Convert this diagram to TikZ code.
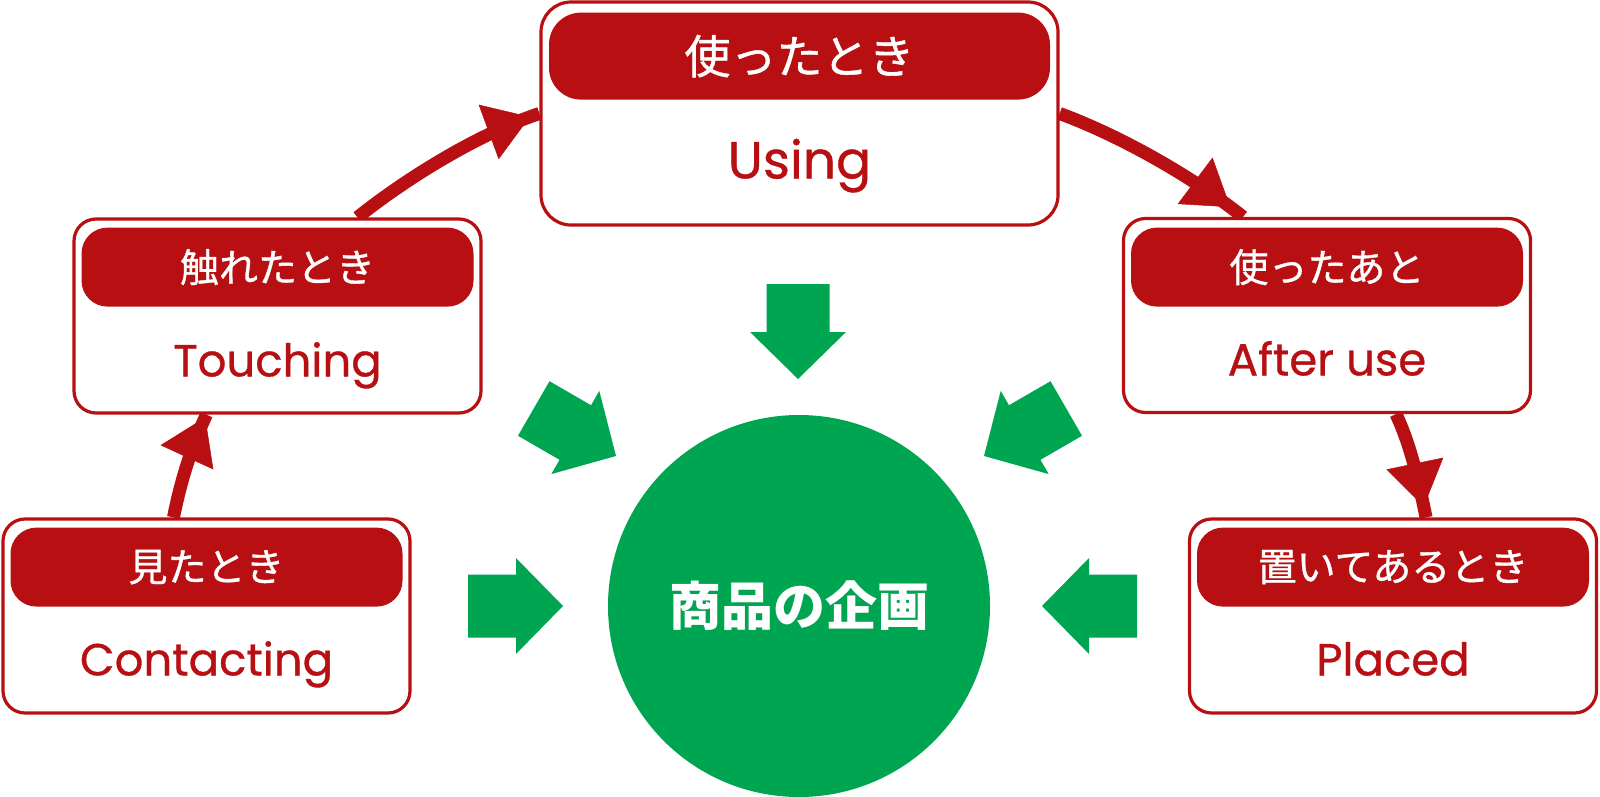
\documentclass[tikz,border=0pt]{standalone}
\usepackage{fontspec}
\setmainfont{Poppins}
\newfontfamily\enfont[FakeBold=0.7]{Poppins}
\newfontfamily\jpfont[FakeBold=0.9]{Noto Sans CJK JP}
\newfontfamily\jpbold{Noto Sans CJK JP}
\usetikzlibrary{positioning,arrows.meta,decorations.markings,backgrounds}

\definecolor{brickred}{RGB}{183,15,18}
\definecolor{leafgreen}{RGB}{0,165,81}

\tikzset{
  stagebox/.style={draw=brickred, line width=3.2pt, fill=white,
    rounded corners=22pt, minimum width=407pt, minimum height=194pt,
    inner sep=0},
  stagehead/.style={fill=brickred, text=white, rounded corners=26pt,
    minimum width=392pt, minimum height=79pt, inner sep=0,
    font=\jpfont\fontsize{39}{42}\selectfont},
  stagename/.style={text=brickred, inner sep=0, anchor=base,
    font=\enfont\fontsize{45}{50}\selectfont},
  flow/.style={draw=brickred, line width=13pt, postaction={decorate},
    decoration={markings,
      mark=at position #1 with {\arrow{Triangle[length=44pt,width=58pt,line width=0.5pt]}}}},
  flow/.default=-10pt,
  inflow/.pic={\fill[leafgreen] (0,0) -- (-47,48) -- (-47,31.5) -- (-95,31.5)
    -- (-95,-31.5) -- (-47,-31.5) -- (-47,-48) -- cycle;}
}

\begin{document}
\begin{tikzpicture}[x=1pt,y=-1pt]
\useasboundingbox (0,0) rectangle (1600,797);

% Planning circle
\node[circle,
    fill=leafgreen,
    minimum size=382pt,
    inner sep=0,
    text=white,
    font=\jpbold\bfseries\fontsize{52}{56}\selectfont] (plan) at (799,606) {商品の企画};

% Contacting block
\node[stagebox] (stage1) at (206.5,616) {};
\node[stagehead, below=10pt of stage1.north] (jp1) {見たとき};
\node[stagename] (en1) at ([yshift=-158pt]stage1.north) {Contacting};

% Touching block
\node[stagebox] (stage2) at (277.5,316) {};
\node[stagehead, below=10pt of stage2.north] (jp2) {触れたとき};
\node[stagename] (en2) at ([yshift=-159pt]stage2.north) {Touching};

% Using block
\node[stagebox,
    minimum width=517pt,
    minimum height=223pt,
    rounded corners=30pt] (stage3) at (799.5,113.5) {};
\node[stagehead,
    below=12pt of stage3.north,
    minimum width=501pt,
    minimum height=87pt,
    rounded corners=32pt,
    font=\jpfont\fontsize{46}{50}\selectfont] (jp3) {使ったとき};
\node[stagename,
    font=\enfont\fontsize{52}{56}\selectfont] (en3) at ([yshift=-178pt]stage3.north) {Using};

% After use block
\node[stagebox] (stage4) at (1327,315.5) {};
\node[stagehead, below=10.5pt of stage4.north] (jp4) {使ったあと};
\node[stagename] (en4) at ([yshift=-158.5pt]stage4.north) {After use};

% Placed block
\node[stagebox] (stage5) at (1393,616) {};
\node[stagehead, below=10pt of stage5.north] (jp5) {置いてあるとき};
\node[stagename] (en5) at ([yshift=-158pt]stage5.north) {Placed};

% Arrows between the stages
\begin{scope}[on background layer]
\draw[flow=-3pt] ([xshift=-33pt]stage1.north)
    .. controls +(8,-40) and +(-14,30) .. ([xshift=-71pt]stage2.south);
\draw[flow=-10pt] ([xshift=80pt]stage2.north)
    .. controls +(50,-40) and +(-60,20) .. (stage3.west);
\draw[flow=-16pt] (stage3.east)
    .. controls +(60,22) and +(-50,-40) .. ([xshift=-84pt]stage4.north);
\draw[flow=-11pt] ([xshift=69pt]stage4.south)
    .. controls +(14,30) and +(-8,-40) .. ([xshift=33pt]stage5.north);
\end{scope}

% Arrows into the circle
\pic[rotate=-90] at (798,379) {inflow};
\pic[rotate=-30] at (616,456) {inflow};
\pic[rotate=-150] at (984,456) {inflow};
\pic at (563,606) {inflow};
\pic[rotate=180] at (1042,606) {inflow};

\end{tikzpicture}
\end{document}
